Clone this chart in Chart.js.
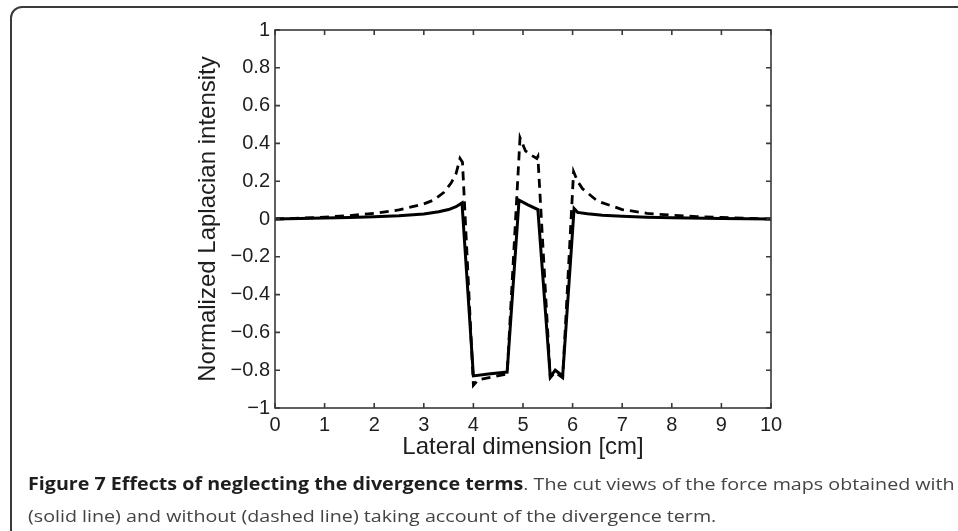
<!DOCTYPE html>
<html>
<head>
<meta charset="utf-8">
<script src="https://cdn.jsdelivr.net/npm/chart.js@4.4.1/dist/chart.umd.min.js"></script>
<style>
  html, body { margin: 0; padding: 0; background: #fff; overflow: hidden; }
  #wrap { position: relative; width: 958px; height: 531px; }
  #frame {
    position: absolute; left: 10px; top: 6px; width: 1000px; height: 600px;
    border: 2px solid #3a3a3a; border-radius: 12px; box-sizing: border-box;
  }
  #myChart { position: absolute; left: 0; top: 0; }
  #caption {
    position: absolute; left: 28px; top: 468px;
    font-family: "Open Sans", sans-serif; font-size: 17px; line-height: 32px;
    color: #444; white-space: nowrap;
    transform: scaleX(1.157); transform-origin: left top;
  }
  #caption b { color: #1e1e1e; }
</style>
</head>
<body>
<div id="wrap">
  <div id="frame"></div>
  <canvas id="myChart" width="958" height="531"></canvas>
  <div id="caption">
    <b>Figure 7 Effects of neglecting the divergence terms</b>. The cut views of the force maps obtained with<br>
    (solid line) and without (dashed line) taking account of the divergence term.
  </div>
</div>
<script>
// with divergence term (solid)
const xSolid = [0, 0.5, 1, 1.5, 2, 2.5, 3, 3.3, 3.5, 3.65, 3.77, 4.0, 4.3, 4.68, 4.92, 5.1, 5.3, 5.55, 5.65, 5.8, 6.03, 6.1, 6.3, 6.6, 7, 7.5, 8, 9, 10]
const ySolid = [0, 0.002, 0.005, 0.008, 0.012, 0.017, 0.027, 0.038, 0.05, 0.065, 0.085, -0.83, -0.82, -0.81, 0.1, 0.075, 0.05, -0.835, -0.8, -0.83, 0.055, 0.035, 0.028, 0.02, 0.014, 0.009, 0.006, 0.003, 0]

// without divergence term (dashed)
const xDashed = [0, 0.5, 1, 1.5, 2, 2.5, 3, 3.2, 3.4, 3.55, 3.65, 3.73, 3.78, 4.0, 4.1, 4.68, 4.94, 5.05, 5.15, 5.28, 5.3, 5.55, 5.65, 5.8, 6.02, 6.1, 6.2, 6.5, 7, 7.5, 8, 8.5, 9, 10]
const yDashed = [0, 0.004, 0.01, 0.018, 0.03, 0.048, 0.08, 0.1, 0.14, 0.19, 0.24, 0.32, 0.3, -0.88, -0.85, -0.82, 0.43, 0.36, 0.34, 0.32, 0.33, -0.84, -0.81, -0.84, 0.25, 0.2, 0.16, 0.095, 0.05, 0.03, 0.02, 0.013, 0.008, 0]

const xTicks = [0, 1, 2, 3, 4, 5, 6, 7, 8, 9, 10]
const yTicks = [-1, -0.8, -0.6, -0.4, -0.2, 0, 0.2, 0.4, 0.6, 0.8, 1]

const toPoints = (xs, ys) => xs.map((x, i) => ({x, y: ys[i]}))

const fmtTick = v => {
    const n = Number(v.toFixed(1))
    if (n === 0) return '0'
    return n < 0 ? '\u2212' + Math.abs(n) : String(n)
}

// box around plot area + inward ticks, matlab style
const matlabBox = {
    id: 'matlabBox',
    afterDatasetsDraw(chart) {
        const {ctx, chartArea: a, scales: {x, y}} = chart
        ctx.save()
        ctx.strokeStyle = '#3a3a3a'
        ctx.lineWidth = 1.6
        ctx.strokeRect(a.left, a.top, a.right - a.left, a.bottom - a.top)
        ctx.beginPath()
        xTicks.forEach(v => {
            const px = x.getPixelForValue(v)
            ctx.moveTo(px, a.bottom); ctx.lineTo(px, a.bottom - 5)
            ctx.moveTo(px, a.top); ctx.lineTo(px, a.top + 5)
        })
        yTicks.forEach(v => {
            const py = y.getPixelForValue(v)
            ctx.moveTo(a.left, py); ctx.lineTo(a.left + 5, py)
            ctx.moveTo(a.right, py); ctx.lineTo(a.right - 5, py)
        })
        ctx.stroke()
        ctx.restore()
    }
}

const renderChart = () => {
    const data = {
        datasets: [{
            data: toPoints(xSolid, ySolid),
            borderColor: '#000',
            borderWidth: 3,
            showLine: true,
            pointRadius: 0
        }, {
            data: toPoints(xDashed, yDashed),
            borderColor: '#000',
            borderWidth: 2.8,
            borderDash: [9, 6],
            showLine: true,
            pointRadius: 0
        }]
    }
    const options = {
        responsive: false,
        animation: false,
        devicePixelRatio: 1,
        layout: {padding: {left: 194, top: 30, right: 187, bottom: 69}},
        plugins: {legend: {display: false}, tooltip: {enabled: false}},
        scales: {
            x: {
                type: 'linear', min: 0, max: 10,
                afterFit: s => { s.height = 54 },
                afterBuildTicks: s => { s.ticks = xTicks.map(value => ({value})) },
                grid: {display: false, drawTicks: false},
                border: {display: false},
                ticks: {color: '#1e1e1e', padding: 5, maxRotation: 0, font: {family: 'Liberation Sans', size: 20}},
                title: {display: true, text: 'Lateral dimension [cm]', color: '#1e1e1e', padding: 0,
                    font: {family: 'Liberation Sans', size: 24}}
            },
            y: {
                type: 'linear', min: -1, max: 1,
                afterFit: s => { s.width = 81 },
                afterBuildTicks: s => { s.ticks = yTicks.map(value => ({value})) },
                grid: {display: false, drawTicks: false},
                border: {display: false},
                ticks: {color: '#1e1e1e', padding: 5, callback: fmtTick, font: {family: 'Liberation Sans', size: 20}},
                title: {display: true, text: 'Normalized Laplacian intensity', color: '#1e1e1e', padding: 0,
                    font: {family: 'Liberation Sans', size: 24}}
            }
        }
    }
    new Chart('myChart', {type: 'scatter', data, options, plugins: [matlabBox]})
}

renderChart()
</script>
</body>
</html>
